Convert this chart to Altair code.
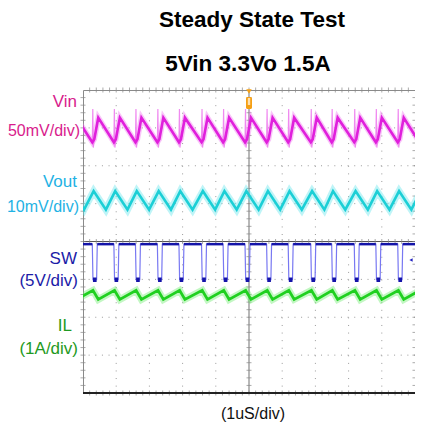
import altair as alt
import pandas as pd

# ---------------- text ----------------
title_lines = ["Steady State Test", "5Vin 3.3Vo 1.5A"]
channel_names = ["Vin", "Vout", "SW", "IL"]
channel_scales = ["(50mV/div)", "(10mV/div)", "(5V/div)", "(1A/div)"]
time_label = "(1uS/div)"

# ---------------- waveform values ----------------
# centres of the SW low pulses, in us (1 us per horizontal division)
switch_us = [-0.30, 0.36, 1.01, 1.66, 2.32, 2.97, 3.65, 4.30, 4.96,
             5.61, 6.26, 6.94, 7.57, 8.25, 8.90, 9.56, 10.21]

# per-cycle vertices: offset from switch time (us) and level (divisions from screen centre)
vin_offsets = [-0.08, -0.065, -0.05, -0.02, 0.10]
vin_levels = [2.62, 3.50, 2.48, 2.70, 3.27]

vout_offsets = [-0.04, 0.33]
vout_levels = [1.33, 0.84]

sw_offsets = [-0.08, -0.06, 0.05, 0.07]
sw_levels = [-0.07, -1.01, -1.01, -0.07]

il_offsets = [-0.06, 0.10]
il_levels = [-1.29, -1.53]


def trace(offsets, levels):
    rows = []
    i = 0
    for t in switch_us:
        for o, lv in zip(offsets, levels):
            rows.append({"t": t + o, "v": lv, "i": i})
            i += 1
    return pd.DataFrame(rows)


X = alt.X("t:Q", scale=alt.Scale(domain=[0, 10], nice=False, zero=False), axis=None)
Y = alt.Y("v:Q", scale=alt.Scale(domain=[-4, 4], nice=False, zero=False), axis=None)

W, H = 332, 303
FONT = "Liberation Sans"

layers = []

# ---------------- graticule ----------------
vgrid = pd.DataFrame({"t": [1, 2, 3, 4, 6, 7, 8, 9]})
hgrid = pd.DataFrame({"v": [-3, -2, -1, 1, 2, 3]})
layers.append(alt.Chart(vgrid).mark_rule(color="#9a9a9a", strokeWidth=1,
                                          strokeDash=[1, 6.58]).encode(x=X))
layers.append(alt.Chart(hgrid).mark_rule(color="#9a9a9a", strokeWidth=1,
                                          strokeDash=[1, 5.64]).encode(y=Y))
layers.append(alt.Chart(pd.DataFrame({"t": [5]})).mark_rule(
    color="#a0a0a0", strokeWidth=1.5).encode(x=X))
layers.append(alt.Chart(pd.DataFrame({"v": [0]})).mark_rule(
    color="#555555", strokeWidth=1).encode(y=Y))

xt = pd.DataFrame({"t": [k * 0.2 for k in range(1, 50)]})
yt = pd.DataFrame({"v": [-4 + k * 0.2 for k in range(1, 40)]})
tick_col = "#888888"
layers.append(alt.Chart(xt).mark_tick(orient="vertical", size=5, thickness=1,
                                      color=tick_col).encode(x=X, y=alt.value(H / 2)))
layers.append(alt.Chart(xt).mark_tick(orient="vertical", size=5, thickness=1,
                                      color=tick_col).encode(x=X, y=alt.value(0)))
layers.append(alt.Chart(xt).mark_tick(orient="vertical", size=5, thickness=1,
                                      color=tick_col).encode(x=X, y=alt.value(H)))
layers.append(alt.Chart(yt).mark_tick(orient="horizontal", size=5, thickness=1,
                                      color=tick_col).encode(y=Y, x=alt.value(W / 2)))
layers.append(alt.Chart(yt).mark_tick(orient="horizontal", size=5, thickness=1,
                                      color=tick_col).encode(y=Y, x=alt.value(0)))
layers.append(alt.Chart(yt).mark_tick(orient="horizontal", size=5, thickness=1,
                                      color=tick_col).encode(y=Y, x=alt.value(W)))

# bottom border heavier
layers.append(alt.Chart(pd.DataFrame({"v": [-4]})).mark_rule(
    color="#222222", strokeWidth=2).encode(y=Y))


# ---------------- traces ----------------
def add_band(df, halo, core, halo_w, core_w, halo_op=0.4):
    base = alt.Chart(df)
    layers.append(base.mark_line(color=halo, strokeWidth=halo_w, opacity=halo_op,
                                 clip=True).encode(x=X, y=Y, order="i:Q"))
    layers.append(base.mark_line(color=core, strokeWidth=core_w, clip=True).encode(
        x=X, y=Y, order="i:Q"))


# Vin: thin light trace for the fast spikes, thick band for the slow ramps
vin_df = trace(vin_offsets, vin_levels)
layers.append(alt.Chart(vin_df).mark_line(color="#f08af0", strokeWidth=1.2, clip=True).encode(
    x=X, y=Y, order="i:Q"))
slow = [0, 3, 4]
add_band(trace([vin_offsets[k] for k in slow], [vin_levels[k] for k in slow]),
         "#f070f0", "#e020dc", 5.5, 2.6)

add_band(trace(vout_offsets, vout_levels), "#60e4ea", "#1ccfd6", 7, 2.6)
add_band(trace(il_offsets, il_levels), "#6aec6a", "#20d020", 7, 2.8)

sw_df = trace(sw_offsets, sw_levels)
layers.append(alt.Chart(sw_df).mark_line(color="#7878f2", strokeWidth=1.2, clip=True).encode(
    x=X, y=Y, order="i:Q"))
hi_rows, lo_rows = [], []
for a, b in zip(switch_us[:-1], switch_us[1:]):
    hi_rows.append({"t": a + sw_offsets[3], "t2": b + sw_offsets[0], "v": sw_levels[0]})
for a in switch_us:
    lo_rows.append({"t": a + sw_offsets[1], "t2": a + sw_offsets[2], "v": sw_levels[1]})
layers.append(alt.Chart(pd.DataFrame(hi_rows)).mark_rule(
    color="#1414a8", strokeWidth=2.5, clip=True).encode(x=X, x2="t2:Q", y=Y))
layers.append(alt.Chart(pd.DataFrame(lo_rows)).mark_rule(
    color="#1414a8", strokeWidth=4.5, clip=True).encode(x=X, x2="t2:Q", y=Y))

# trigger marker and channel marker
one = pd.DataFrame({"a": [0]})
layers.append(alt.Chart(one).mark_point(shape="triangle-down", filled=True, color="#f5a015",
                                        size=30, opacity=1).encode(
    x=alt.value(W / 2), y=alt.value(1.5)))
layers.append(alt.Chart(one).mark_rect(color="#f5a015", cornerRadius=1.5).encode(
    x=alt.value(W / 2 - 3), x2=alt.value(W / 2 + 3), y=alt.value(7), y2=alt.value(19)))
layers.append(alt.Chart(one).mark_rect(color="#fde0b0").encode(
    x=alt.value(W / 2 - 1.2), x2=alt.value(W / 2 + 1.2), y=alt.value(8), y2=alt.value(15)))
layers.append(alt.Chart(one).mark_point(shape="triangle-left", filled=True, color="#2020c0",
                                        size=14, opacity=1).encode(
    x=alt.value(W - 4), y=alt.value(170)))


# ---------------- text ----------------
def text(s, x, y, size, color, bold=False, align="right"):
    layers.append(alt.Chart(one).mark_text(
        text=s, font=FONT, fontSize=size, color=color, align=align,
        baseline="alphabetic", fontWeight="bold" if bold else "normal").encode(
        x=alt.value(x), y=alt.value(y)))


text(title_lines[0], 169, -63.5, 22.5, "#000000", bold=True, align="center")
text(title_lines[1], 165, -19.5, 22.5, "#000000", bold=True, align="center")
text(time_label, 170, 329, 16, "#111111", align="center")

label_colors = ["#d81b8c", "#1fb2e4", "#1c1ca8", "#1f9a22"]
name_x = [-6, -6, -6, -11]
name_y = [17, 97, 173.5, 241]
scale_x = [-3, -4, -5, -5]
scale_y = [46, 122, 195.5, 264]
scale_size = [16, 16, 17, 17]
for k in range(4):
    text(channel_names[k], name_x[k], name_y[k], 17, label_colors[k])
    text(channel_scales[k], scale_x[k], scale_y[k], scale_size[k], label_colors[k])

chart = alt.layer(*layers).properties(
    width=W, height=H,
    autosize=alt.AutoSizeParams(type="none"),
    padding={"left": 75, "top": 82, "right": 0, "bottom": 33},
    background="white",
).configure_view(stroke="#8a8a8a", strokeWidth=1)

chart.save("out.html", embed_options={"renderer": "svg", "actions": False})
